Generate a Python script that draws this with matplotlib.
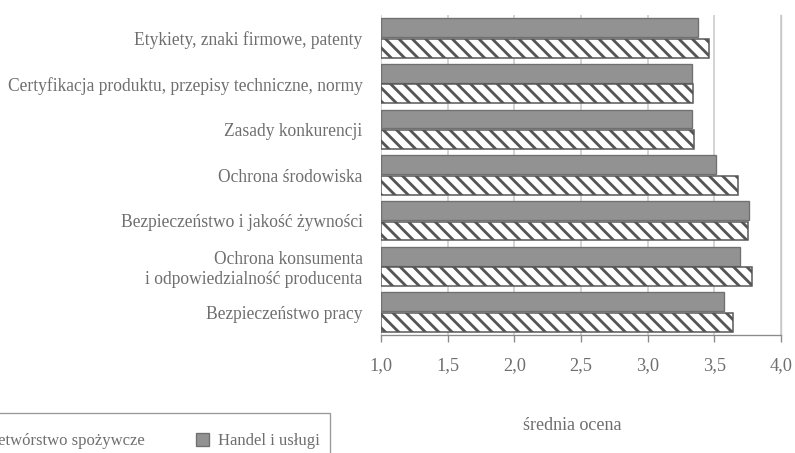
import numpy as np
import matplotlib
matplotlib.use('Agg')
from matplotlib import pyplot as plt
from matplotlib.patches import Rectangle

# Dane: średnie oceny dla dwóch sektorów
kategorie = ['Etykiety, znaki firmowe, patenty',
             'Certyfikacja produktu, przepisy techniczne, normy',
             'Zasady konkurencji',
             'Ochrona środowiska',
             'Bezpieczeństwo i jakość żywności',
             'Ochrona konsumenta\ni odpowiedzialność producenta',
             'Bezpieczeństwo pracy']
handel = [3.38, 3.33, 3.33, 3.51, 3.76, 3.69, 3.57]
przetworstwo = [3.46, 3.34, 3.35, 3.68, 3.75, 3.78, 3.64]
ticki = [1.0, 1.5, 2.0, 2.5, 3.0, 3.5, 4.0]
etykiety_tickow = ['1,0', '1,5', '2,0', '2,5', '3,0', '3,5', '4,0']

szary_tekst = '#6e6e6e'
plt.rcParams['font.family'] = ['Liberation Serif', 'DejaVu Serif']
plt.rcParams['hatch.linewidth'] = 1.7
plt.rcParams['hatch.color'] = '#5a5a5a'

dpi = 120
W, H = 795, 453
fig = plt.figure(figsize=(W/dpi, H/dpi), dpi=dpi)
ax = fig.add_axes([381/W, 1-335/H, 400/W, 320/H])

y = np.arange(len(kategorie))
h = 0.41
ax.barh(y - h/2 - 0.02, np.array(handel) - 1.0, left=1.0, height=h,
        color='#929292', edgecolor='#707070', linewidth=0.8,
        label='Handel i usługi', zorder=3)
ax.barh(y + h/2 + 0.02, np.array(przetworstwo) - 1.0, left=1.0, height=h,
        color='white', edgecolor='#555555', linewidth=0.9, hatch='\\\\\\',
        label='Przetwórstwo spożywcze', zorder=3)

ax.set_xlim(1.0, 4.0)
ax.set_ylim(len(kategorie) - 0.5, -0.5)
ax.set_xticks(ticki)
ax.set_xticklabels(etykiety_tickow)
ax.set_yticks(y)
ax.set_yticklabels(kategorie, ha='right')

ax.grid(axis='x', color='#c8c8c8', linewidth=0.9, zorder=0)
for s in ['top', 'left']:
    ax.spines[s].set_visible(False)
ax.spines['right'].set_color('#c8c8c8')
ax.spines['bottom'].set_color('#8a8a8a')
ax.tick_params(axis='x', direction='out', length=4, color='#8a8a8a',
               labelsize=11, labelcolor=szary_tekst, pad=9)
ax.tick_params(axis='y', length=0, labelsize=10.5, labelcolor=szary_tekst,
               pad=11)

ax.set_xlabel('średnia ocena', fontsize=10.8, color=szary_tekst)
ax.xaxis.set_label_coords(0.477, -0.255)

# legenda u dołu, częściowo poza kadrem; ramka rysowana osobno
uchwyty, opisy = ax.get_legend_handles_labels()
leg = fig.legend(uchwyty[::-1], opisy[::-1], loc='center right',
                 bbox_to_anchor=(320/W, 1-441/H), ncol=2,
                 fontsize=10, frameon=False, borderpad=0, borderaxespad=0,
                 handlelength=0.8, handleheight=0.8,
                 columnspacing=3.05, handletextpad=0.55)
for t in leg.get_texts():
    t.set_color(szary_tekst)
fig.patches.append(Rectangle((-40/W, -20/H), 370/W, (453-413+20)/H,
                             transform=fig.transFigure, fill=False,
                             edgecolor='#9a9a9a', linewidth=0.8))

fig.savefig('out.png', dpi=dpi)
